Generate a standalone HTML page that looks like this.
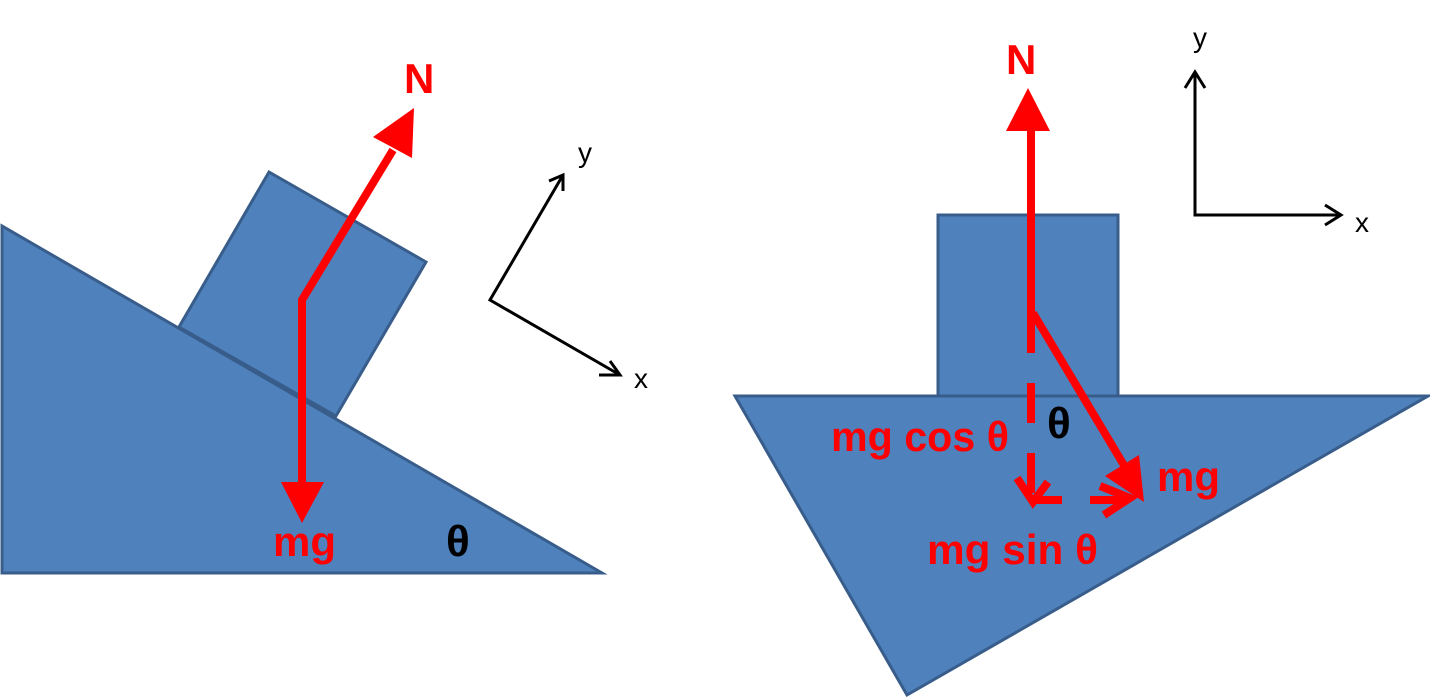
<!DOCTYPE html>
<html><head><meta charset="utf-8"><style>html,body{margin:0;padding:0;background:#fff}svg{display:block}</style></head>
<body>
<svg width="1430" height="699" viewBox="0 0 1430 699" xmlns="http://www.w3.org/2000/svg" font-family="Liberation Sans, DejaVu Sans, sans-serif">
<g fill="#4f81bd" stroke="#385d8a" stroke-width="3" stroke-linejoin="miter">
<polygon points="2,226 2,573 602,573"/>
<polygon points="269,172 426,262 336,416 179,327"/>
<polygon points="735,396 1428,396 907,695"/>
<rect x="938" y="215" width="180" height="181"/>
</g>
<g stroke="#ff0000" stroke-width="8" fill="none">
<polyline points="302,485 302,300 393,150"/>
</g>
<g fill="#ff0000">
<polygon points="414,108 373,137 412,158"/>
<polygon points="302,523 281,482 324,482"/>
</g>
<g fill="#ff0000" font-weight="bold" font-size="42">
<text x="404" y="93">N</text>
<text x="273" y="556">mg</text>
</g>
<text x="446" y="556" font-size="44" font-weight="bold" fill="#000">θ</text>
<g stroke="#000" stroke-width="3" fill="none">
<polyline points="563,175 490,300 620,375"/>
<polyline points="549,181 563,175 563,191"/>
<polyline points="599,375 620,375 610,361"/>
</g>
<text x="578" y="162" font-size="28">y</text>
<text x="634" y="388" font-size="28">x</text>
<g stroke="#ff0000" stroke-width="8" fill="none">
<line x1="1031" y1="313" x2="1031" y2="125"/>
<line x1="1033" y1="313" x2="1128" y2="472"/>
<line x1="1031" y1="313" x2="1031" y2="500" stroke-dasharray="40,30"/>
<polyline points="1017,478 1033,502 1048,482"/>
<line x1="1035" y1="500" x2="1062" y2="500"/>
<line x1="1090" y1="500" x2="1128" y2="500"/>
<polyline points="1100,486 1130,498 1104,515"/>
</g>
<g fill="#ff0000">
<polygon points="1028,88 1006,131 1050,131"/>
<polygon points="1144,502 1139,455 1105,476"/>
</g>
<g fill="#ff0000" font-weight="bold" font-size="42">
<text x="1006" y="74">N</text>
<text x="831" y="451" textLength="178" lengthAdjust="spacingAndGlyphs">mg cos θ</text>
<text x="1157" y="491">mg</text>
<text x="927" y="564" textLength="171" lengthAdjust="spacingAndGlyphs">mg sin θ</text>
</g>
<text x="1047" y="438" font-size="44" font-weight="bold" fill="#000">θ</text>
<g stroke="#000" stroke-width="3" fill="none">
<polyline points="1195,72 1195,215 1340,215"/>
<polyline points="1185,88 1195,72 1205,88"/>
<polyline points="1325,205 1341,215 1325,225"/>
</g>
<text x="1193" y="47" font-size="28">y</text>
<text x="1355" y="232" font-size="28">x</text>
</svg>
</body></html>
